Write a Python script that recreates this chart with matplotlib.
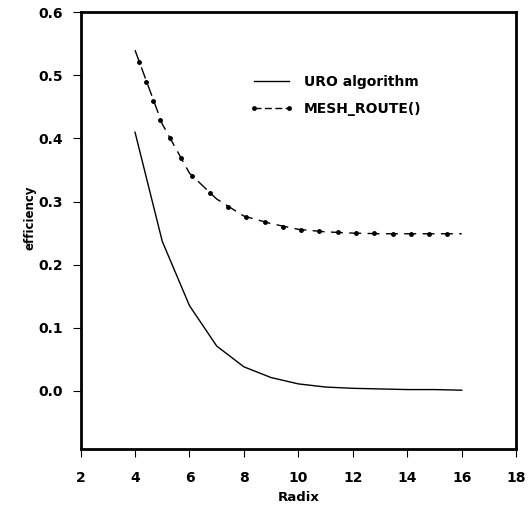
import matplotlib
matplotlib.use("Agg")
import matplotlib.pyplot as plt
from matplotlib.lines import Line2D

plt.rcParams['font.family'] = ['DejaVu Sans']
plt.rcParams['font.weight'] = 'bold'
plt.rcParams['lines.scale_dashes'] = False

# values
radix = [4, 5, 6, 7, 8, 9, 10, 11, 12, 13, 14, 15, 16]
uro = [0.410, 0.237, 0.135, 0.071, 0.038, 0.021, 0.011, 0.006, 0.004,
       0.003, 0.002, 0.002, 0.001]
mesh = [0.540, 0.423, 0.345, 0.304, 0.277, 0.265, 0.256, 0.252, 0.250,
        0.249, 0.249, 0.249, 0.249]

# dots on the MESH_ROUTE() curve, as they sit in the picture
mesh_dot_x = [4.14, 4.40, 4.67, 4.93, 5.29, 5.68, 6.10, 6.77, 7.43, 8.08,
              8.76, 9.43, 10.10, 10.77, 11.45, 12.12, 12.78, 13.46, 14.13,
              14.79, 15.47]
mesh_dot_y = [0.522, 0.490, 0.459, 0.430, 0.400, 0.369, 0.341, 0.313, 0.292,
              0.276, 0.267, 0.260, 0.255, 0.253, 0.251, 0.250, 0.250, 0.249,
              0.249, 0.249, 0.249]

xticks = [2, 4, 6, 8, 10, 12, 14, 16, 18]
yticks = [0.0, 0.1, 0.2, 0.3, 0.4, 0.5, 0.6]

fig = plt.figure(figsize=(5.30, 5.13), dpi=100)
ax = fig.add_axes([0.152, 0.125, 0.822, 0.851])

ax.plot(radix, uro, color='black', lw=1.0)
ax.plot(radix, mesh, color='black', lw=1.0, dashes=(8.6, 4.6), dash_capstyle='butt')
ax.plot(mesh_dot_x, mesh_dot_y, ls='none', marker='o', ms=2.5, color='black')

ax.set_xlim(2, 18)
ax.set_ylim(-0.092, 0.6)
ax.set_xticks(xticks)
ax.set_yticks(yticks)
ax.set_yticklabels(['%.1f' % v for v in yticks])

for s in ax.spines.values():
    s.set_linewidth(2.0)
ax.tick_params(direction='out', length=6, width=0.8, labelsize=10)
ax.tick_params(axis='x', pad=10)
ax.tick_params(axis='y', pad=7)

ax.set_xlabel('Radix', fontsize=9.5, fontweight='bold')
ax.set_ylabel('efficiency', fontsize=8.5, fontweight='bold')
ax.xaxis.set_label_coords(0.5, -0.097)
ax.yaxis.set_label_coords(-0.102, 0.53)

handles = [Line2D([], [], color='black', lw=1.0),
           Line2D([], [], color='black', lw=1.0, dashes=(5.0, 2.5),
                  marker='o', ms=2.5)]
ax.legend(handles, ['URO algorithm', 'MESH_ROUTE()'], loc='upper left',
          bbox_to_anchor=(0.36, 0.885), frameon=False, fontsize=10,
          handlelength=3.1, handletextpad=0.8, labelspacing=0.95,
          numpoints=2)

fig.savefig('out.png', dpi=100)
